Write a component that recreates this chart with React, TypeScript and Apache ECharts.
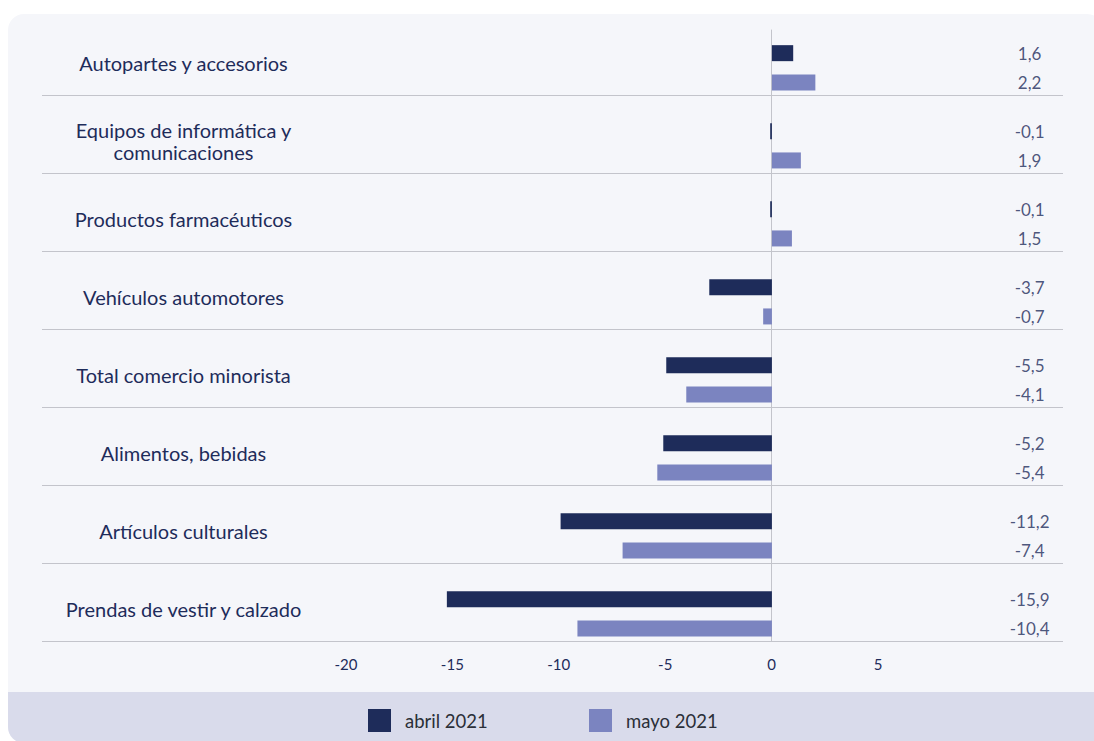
import React, { useEffect, useRef } from 'react';
import * as echarts from 'echarts';

// Categories (top to bottom)
const categories = [
  'Autopartes y accesorios',
  'Equipos de informática y\ncomunicaciones',
  'Productos farmacéuticos',
  'Vehículos automotores',
  'Total comercio minorista',
  'Alimentos, bebidas',
  'Artículos culturales',
  'Prendas de vestir y calzado',
];

// Printed values (labels on the right)
const abrilLabels = ['1,6', '-0,1', '-0,1', '-3,7', '-5,5', '-5,2', '-11,2', '-15,9'];
const mayoLabels = ['2,2', '1,9', '1,5', '-0,7', '-4,1', '-5,4', '-7,4', '-10,4'];

// Bar lengths as drawn in the picture
const abrilBars = [1.0, -0.08, -0.08, -2.94, -4.96, -5.1, -9.92, -15.26];
const mayoBars = [2.04, 1.36, 0.94, -0.41, -4.02, -5.38, -7.01, -9.13];

// Value axis
const xMin = -20;
const xMax = 15;
const xInterval = 5;
const lastShownTick = 5;
const labelColumnValue = 12.1;

const seriesNames = ['abril 2021', 'mayo 2021'];
const NAVY = '#1e2c5a';
const LAVENDER = '#7b84c0';
const FONT = 'Lato, "Noto Sans", sans-serif';

export default function App() {
  const ref = useRef<HTMLDivElement>(null);

  useEffect(() => {
    if (!ref.current) return;
    const chart = echarts.init(ref.current, undefined, { renderer: 'svg' });

    const xLeft = 345.9;
    const xRight = 2.6;

    const option: any = {
      animation: false,
      backgroundColor: '#ffffff',
      textStyle: { fontFamily: FONT },
      graphic: [
        {
          type: 'rect',
          z: -100,
          silent: true,
          shape: { x: 8, y: 14, width: 1095, height: 729, r: 16 },
          style: { fill: '#f5f6fa' },
        },
        {
          type: 'rect',
          z: -99,
          silent: true,
          shape: { x: 8, y: 692, width: 1095, height: 51, r: [0, 0, 16, 16] },
          style: { fill: '#d9dbeb' },
        },
      ],
      legend: [
        {
          data: [seriesNames[0]],
          left: 368,
          top: 709,
          padding: 0,
          itemWidth: 23,
          itemHeight: 23,
          icon: 'rect',
          selectedMode: false,
          textStyle: { fontFamily: FONT, fontSize: 18.5, color: '#2b2f38', padding: [0, 0, 0, 9] },
        },
        {
          data: [seriesNames[1]],
          left: 589,
          top: 709,
          padding: 0,
          itemWidth: 23,
          itemHeight: 23,
          icon: 'rect',
          selectedMode: false,
          textStyle: { fontFamily: FONT, fontSize: 18.5, color: '#2b2f38', padding: [0, 0, 0, 9] },
        },
      ],
      grid: [
        // 0: separators
        { left: 42, right: 31, top: 95, bottom: 100 },
        // 1: category labels
        { left: 325, right: 600, top: 23.6, bottom: 93.4 },
        // 2: bars
        { left: xLeft, right: xRight, top: 28.8, bottom: 88.2 },
        // 3: zero line + tick labels
        { left: xLeft, right: xRight, top: 30, bottom: 100 },
      ],
      xAxis: [
        { gridIndex: 0, type: 'value', show: false, min: 0, max: 1 },
        { gridIndex: 1, type: 'value', show: false, min: 0, max: 1 },
        { gridIndex: 2, type: 'value', show: false, min: xMin, max: xMax, interval: xInterval },
        {
          gridIndex: 3,
          type: 'value',
          min: xMin,
          max: xMax,
          interval: xInterval,
          axisLine: { show: false, onZero: false },
          axisTick: { show: false },
          splitLine: { show: false },
          axisLabel: {
            margin: 15,
            fontFamily: FONT,
            fontSize: 15,
            color: NAVY,
            formatter: (v: number) => (v > lastShownTick ? '' : String(v)),
          },
        },
      ],
      yAxis: [
        {
          gridIndex: 0,
          type: 'value',
          min: 1,
          max: 8,
          interval: 1,
          inverse: true,
          axisLine: { show: false },
          axisTick: { show: false },
          axisLabel: { show: false },
          splitLine: { show: true, lineStyle: { color: '#c3c4cb', width: 1 } },
        },
        {
          gridIndex: 1,
          type: 'category',
          data: categories,
          inverse: true,
          axisLine: { show: false },
          axisTick: { show: false },
          splitLine: { show: false },
          axisLabel: {
            align: 'center',
            margin: 141.5,
            fontFamily: FONT,
            fontSize: 20,
            lineHeight: 22,
            color: NAVY,
          },
        },
        {
          gridIndex: 2,
          type: 'category',
          data: categories,
          inverse: true,
          show: false,
        },
        {
          gridIndex: 3,
          type: 'value',
          min: 0,
          max: 1,
          axisLine: { show: true, onZero: true, lineStyle: { color: '#c3c4cb', width: 1 } },
          axisTick: { show: false },
          axisLabel: { show: false },
          splitLine: { show: false },
        },
      ],
      series: [
        {
          name: seriesNames[0],
          type: 'bar',
          xAxisIndex: 2,
          yAxisIndex: 2,
          data: abrilBars,
          barWidth: 16,
          barGap: '83%',
          itemStyle: { color: NAVY },
          silent: true,
        },
        {
          name: seriesNames[1],
          type: 'bar',
          xAxisIndex: 2,
          yAxisIndex: 2,
          data: mayoBars,
          barWidth: 16,
          barGap: '83%',
          itemStyle: { color: LAVENDER },
          silent: true,
        },
        {
          type: 'scatter',
          xAxisIndex: 2,
          yAxisIndex: 2,
          symbolSize: 0.1,
          itemStyle: { color: 'rgba(0,0,0,0)' },
          silent: true,
          data: categories.map((c, i) => ({ value: [labelColumnValue, c], label: { formatter: abrilLabels[i] } })),
          label: {
            show: true,
            position: 'inside',
            offset: [0, -14.65],
            fontFamily: FONT,
            fontSize: 17,
            color: NAVY,
          },
        },
        {
          type: 'scatter',
          xAxisIndex: 2,
          yAxisIndex: 2,
          symbolSize: 0.1,
          itemStyle: { color: 'rgba(0,0,0,0)' },
          silent: true,
          data: categories.map((c, i) => ({ value: [labelColumnValue, c], label: { formatter: mayoLabels[i] } })),
          label: {
            show: true,
            position: 'inside',
            offset: [0, 14.65],
            fontFamily: FONT,
            fontSize: 17,
            color: NAVY,
          },
        },
      ],
    };

    chart.setOption(option);
    return () => chart.dispose();
  }, []);

  return (
    <div
      ref={ref}
      style={{ position: 'fixed', left: 0, top: 0, width: 1094, height: 741 }}
    />
  );
}
